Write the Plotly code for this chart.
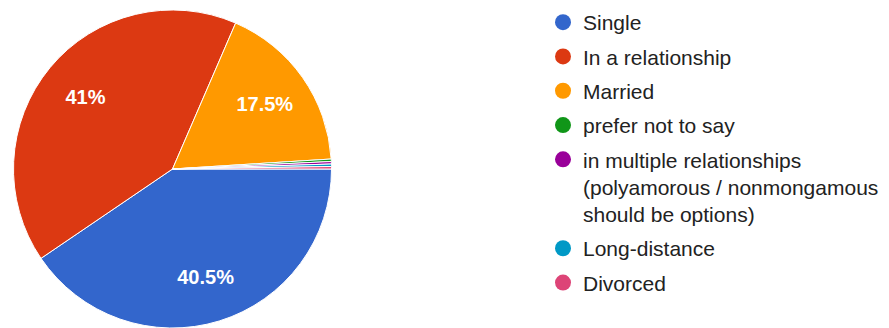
import plotly.graph_objects as go

labels = ["Single", "In a relationship", "Married", "prefer not to say",
          "in multiple relationships<br>(polyamorous / nonmongamous<br>should be options)",
          "Long-distance", "Divorced"]
counts = [162, 164, 70, 1, 1, 1, 1]
colors = ["#3366CC", "#DC3912", "#FF9900", "#109618", "#990099", "#0099C6", "#DD4477"]
show_pct = [True, True, True, False, False, False, False]

# page body has an 8px margin, so the figure is sized to fit the window
W, H = 881, 320
cx, r = 164.5, 159
dom = dict(x=[(cx - r) / W, (cx + r) / W], y=[0, 2 * r / H])

fig = go.Figure()
# coloured pie
fig.add_trace(go.Pie(
    labels=labels, values=counts, sort=False, direction="clockwise", rotation=90,
    marker=dict(colors=colors, line=dict(color="white", width=1)),
    textinfo="none", showlegend=False, hoverinfo="skip", domain=dom,
))
# transparent ring on top carrying the percentage labels (pushes them outward)
fig.add_trace(go.Pie(
    labels=labels, values=counts, sort=False, direction="clockwise", rotation=90,
    hole=0.42,
    marker=dict(colors=["rgba(0,0,0,0)"] * len(labels), line=dict(width=0)),
    texttemplate=["<b>%{percent}</b>" if s else "" for s in show_pct],
    textposition="inside", insidetextorientation="horizontal",
    textfont=dict(family="Liberation Sans", size=20, color="white"),
    showlegend=False, hoverinfo="skip", domain=dom,
))
for i, (lab, col) in enumerate(zip(labels, colors)):
    fig.add_trace(go.Scatter(
        x=[None], y=[None], mode="markers", name=lab, legendgroup=f"g{i}",
        marker=dict(color=col, size=16, symbol="circle"), hoverinfo="skip",
    ))

fig.update_layout(
    width=W, height=H, margin=dict(l=0, r=0, t=0, b=0, autoexpand=False),
    paper_bgcolor="white", plot_bgcolor="white",
    xaxis=dict(visible=False), yaxis=dict(visible=False),
    font=dict(family="Liberation Sans", color="#222222"),
    legend=dict(x=535 / W, xanchor="left", y=1 + 6 / H, yanchor="top",
                maxheight=1000,
                font=dict(size=21, color="#222222", family="Liberation Sans"),
                tracegroupgap=4, valign="top", bgcolor="rgba(0,0,0,0)"),
)
fig.write_html("out.html")
